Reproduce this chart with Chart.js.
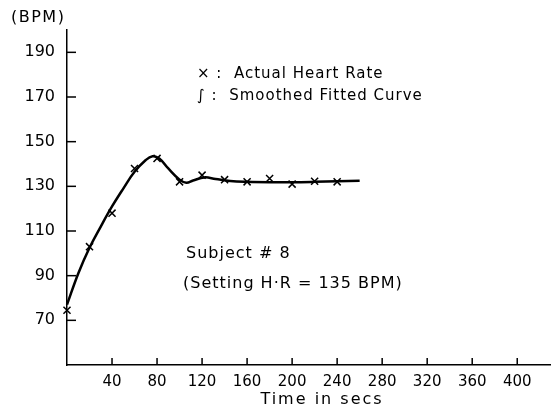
<!DOCTYPE html>
<html>
<head>
<meta charset="utf-8">
<script src="https://cdn.jsdelivr.net/npm/chart.js@4.4.1/dist/chart.umd.min.js"></script>
<style>
  html, body { margin: 0; padding: 0; background: #fff; }
  #wrap { position: relative; width: 551px; height: 413px; }
</style>
</head>
<body>
<div id="wrap"><canvas id="hrChart"></canvas></div>
<script>
// measured heart rate (x markers), every 20 s
const sampleTimes = [0, 20, 40, 60, 80, 100, 120, 140, 160, 180, 200, 220, 240];
const sampleBpm = [74.5, 103, 118, 138, 142.5, 132, 135, 133, 132, 133.5, 131, 132.3, 132];

// smoothed fitted curve
const curveTimes = [0, 10, 20, 30, 40, 50, 60, 70, 76, 82, 90, 100, 106, 112, 122, 132, 145, 160, 180, 200, 220, 240, 260];
const curveBpm = [77, 91, 102.5, 112, 121, 129, 136.5, 141.8, 143.5, 142.5, 138, 133, 131.6, 132.6, 134, 133.3, 132.4, 132, 131.8, 131.8, 132, 132.3, 132.5];

const xTicks = [40, 80, 120, 160, 200, 240, 280, 320, 360, 400];
const yTicks = [70, 90, 110, 130, 150, 170, 190];

const font = "'DejaVu Sans', sans-serif";

const innerTicks = {
  id: 'innerTicks',
  afterDraw(chart) {
    const c = chart.ctx;
    const xs = chart.scales.x, ys = chart.scales.y;
    const area = chart.chartArea;
    c.save();
    c.strokeStyle = '#000';
    c.lineWidth = 1.5;
    xs.ticks.forEach(t => {
      const px = xs.getPixelForValue(t.value);
      c.beginPath(); c.moveTo(px, area.bottom); c.lineTo(px, area.bottom - 7); c.stroke();
    });
    ys.ticks.forEach(t => {
      const py = ys.getPixelForValue(t.value);
      c.beginPath(); c.moveTo(area.left, py); c.lineTo(area.left + 9, py); c.stroke();
    });
    // annotations
    c.fillStyle = '#000';
    c.textBaseline = 'middle';
    c.letterSpacing = '1px';
    c.font = '15px ' + font;
    c.fillText('\u00d7 :  Actual Heart Rate', 197, 74);
    c.fillText('\u222b :  Smoothed Fitted Curve', 197, 96);
    c.font = '16px ' + font;
    c.fillText('Subject # 8', 186, 254);
    c.fillText('(Setting H\u00b7R = 135 BPM)', 183, 284);
    c.letterSpacing = '1.5px';
    c.fillText('(BPM)', 11, 18);
    c.letterSpacing = '2px';
    c.textAlign = 'center';
    c.fillText('Time in secs', 322, 400);
    c.restore();
  }
};

new Chart(document.getElementById('hrChart'), {
  type: 'scatter',
  data: {
    datasets: [
      {
        type: 'line',
        label: 'Smoothed Fitted Curve',
        data: curveTimes.map((t, i) => ({ x: t, y: curveBpm[i] })),
        borderColor: '#000',
        borderWidth: 2.5,
        pointRadius: 0,
        tension: 0.4,
        fill: false,
        clip: false
      },
      {
        label: 'Actual Heart Rate',
        data: sampleTimes.map((t, i) => ({ x: t, y: sampleBpm[i] })),
        pointStyle: 'crossRot',
        pointRadius: 5,
        borderColor: '#000',
        borderWidth: 1.5,
        backgroundColor: '#000',
        clip: false
      }
    ]
  },
  options: {
    responsive: true,
    maintainAspectRatio: false,
    animation: false,
    layout: { autoPadding: false, padding: { top: 30, right: 0, left: 0, bottom: 0 } },
    plugins: { legend: { display: false }, tooltip: { enabled: false } },
    scales: {
      x: {
        type: 'linear',
        min: 0,
        max: 430,
        afterBuildTicks: s => { s.ticks = xTicks.map(v => ({ value: v })); },
        afterFit: s => { s.height = 48; },
        grid: { drawOnChartArea: false, drawTicks: false },
        border: { color: '#000', width: 1.5 },
        ticks: { color: '#000', padding: 8, font: { family: font, size: 15 } }
      },
      y: {
        min: 50,
        max: 200,
        afterBuildTicks: s => { s.ticks = yTicks.map(v => ({ value: v })); },
        afterFit: s => { s.width = 67; },
        grid: { drawOnChartArea: false, drawTicks: false },
        border: { color: '#000', width: 1.5 },
        ticks: { color: '#000', padding: 12, font: { family: font, size: 16 } }
      }
    }
  },
  plugins: [innerTicks]
});
</script>
</body>
</html>
